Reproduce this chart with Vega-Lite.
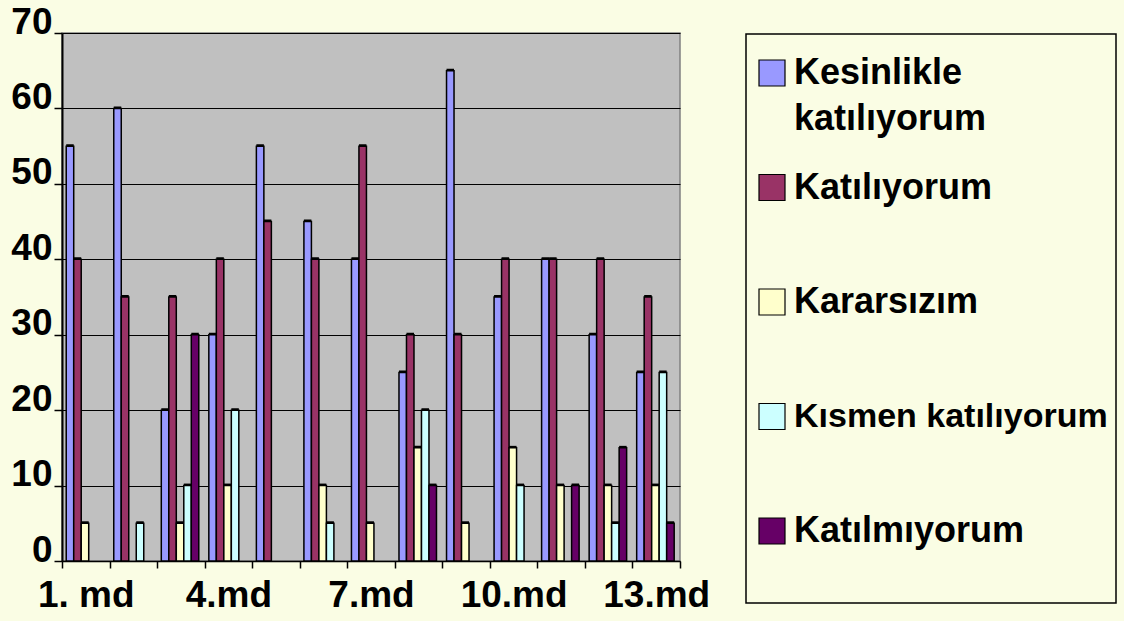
{
  "$schema": "https://vega.github.io/schema/vega-lite/v6.json",
  "autosize": "none",
  "width": 618,
  "height": 528,
  "padding": {"left": 62, "top": 33, "right": 444, "bottom": 60},
  "background": "#FAFDE4",
  "config": {
    "view": {"fill": "#C0C0C0", "stroke": "#808080", "strokeWidth": 1.5},
    "font": "Liberation Sans"
  },
  "data": {
    "values": [
      {"md": "1. md", "yanit": "Kesinlikle katılıyorum", "deger": 55},
      {"md": "1. md", "yanit": "Katılıyorum", "deger": 40},
      {"md": "1. md", "yanit": "Kararsızım", "deger": 5},
      {"md": "2.md", "yanit": "Kesinlikle katılıyorum", "deger": 60},
      {"md": "2.md", "yanit": "Katılıyorum", "deger": 35},
      {"md": "2.md", "yanit": "Kısmen katılıyorum", "deger": 5},
      {"md": "3.md", "yanit": "Kesinlikle katılıyorum", "deger": 20},
      {"md": "3.md", "yanit": "Katılıyorum", "deger": 35},
      {"md": "3.md", "yanit": "Kararsızım", "deger": 5},
      {"md": "3.md", "yanit": "Kısmen katılıyorum", "deger": 10},
      {"md": "3.md", "yanit": "Katılmıyorum", "deger": 30},
      {"md": "4.md", "yanit": "Kesinlikle katılıyorum", "deger": 30},
      {"md": "4.md", "yanit": "Katılıyorum", "deger": 40},
      {"md": "4.md", "yanit": "Kararsızım", "deger": 10},
      {"md": "4.md", "yanit": "Kısmen katılıyorum", "deger": 20},
      {"md": "5.md", "yanit": "Kesinlikle katılıyorum", "deger": 55},
      {"md": "5.md", "yanit": "Katılıyorum", "deger": 45},
      {"md": "6.md", "yanit": "Kesinlikle katılıyorum", "deger": 45},
      {"md": "6.md", "yanit": "Katılıyorum", "deger": 40},
      {"md": "6.md", "yanit": "Kararsızım", "deger": 10},
      {"md": "6.md", "yanit": "Kısmen katılıyorum", "deger": 5},
      {"md": "7.md", "yanit": "Kesinlikle katılıyorum", "deger": 40},
      {"md": "7.md", "yanit": "Katılıyorum", "deger": 55},
      {"md": "7.md", "yanit": "Kararsızım", "deger": 5},
      {"md": "8.md", "yanit": "Kesinlikle katılıyorum", "deger": 25},
      {"md": "8.md", "yanit": "Katılıyorum", "deger": 30},
      {"md": "8.md", "yanit": "Kararsızım", "deger": 15},
      {"md": "8.md", "yanit": "Kısmen katılıyorum", "deger": 20},
      {"md": "8.md", "yanit": "Katılmıyorum", "deger": 10},
      {"md": "9.md", "yanit": "Kesinlikle katılıyorum", "deger": 65},
      {"md": "9.md", "yanit": "Katılıyorum", "deger": 30},
      {"md": "9.md", "yanit": "Kararsızım", "deger": 5},
      {"md": "10.md", "yanit": "Kesinlikle katılıyorum", "deger": 35},
      {"md": "10.md", "yanit": "Katılıyorum", "deger": 40},
      {"md": "10.md", "yanit": "Kararsızım", "deger": 15},
      {"md": "10.md", "yanit": "Kısmen katılıyorum", "deger": 10},
      {"md": "11.md", "yanit": "Kesinlikle katılıyorum", "deger": 40},
      {"md": "11.md", "yanit": "Katılıyorum", "deger": 40},
      {"md": "11.md", "yanit": "Kararsızım", "deger": 10},
      {"md": "11.md", "yanit": "Katılmıyorum", "deger": 10},
      {"md": "12.md", "yanit": "Kesinlikle katılıyorum", "deger": 30},
      {"md": "12.md", "yanit": "Katılıyorum", "deger": 40},
      {"md": "12.md", "yanit": "Kararsızım", "deger": 10},
      {"md": "12.md", "yanit": "Kısmen katılıyorum", "deger": 5},
      {"md": "12.md", "yanit": "Katılmıyorum", "deger": 15},
      {"md": "13.md", "yanit": "Kesinlikle katılıyorum", "deger": 25},
      {"md": "13.md", "yanit": "Katılıyorum", "deger": 35},
      {"md": "13.md", "yanit": "Kararsızım", "deger": 10},
      {"md": "13.md", "yanit": "Kısmen katılıyorum", "deger": 25},
      {"md": "13.md", "yanit": "Katılmıyorum", "deger": 5}
    ]
  },
  "encoding": {
    "x": {
      "field": "md",
      "type": "nominal",
      "sort": null,
      "scale": {"paddingInner": 0, "paddingOuter": 0},
      "axis": {
        "title": null,
        "tickBand": "extent",
        "labelExpr": "indexof(['1. md', '4.md', '7.md', '10.md', '13.md'], datum.value) >= 0 ? datum.label : ''",
        "labelAngle": 0,
        "labelFont": "Liberation Sans",
        "labelFontWeight": "bold",
        "labelFontSize": 37,
        "labelColor": "black",
        "labelOverlap": false,
        "labelBound": false,
        "labelFlush": false,
        "labelPadding": 9,
        "tickColor": "black",
        "tickSize": 7,
        "tickWidth": 1.5,
        "domainColor": "black",
        "domainWidth": 1.5,
        "grid": false
      }
    },
    "xOffset": {
      "field": "yanit",
      "type": "nominal",
      "scale": {
        "domain": ["Kesinlikle katılıyorum", "Katılıyorum", "Kararsızım", "Kısmen katılıyorum", "Katılmıyorum"],
        "paddingInner": 0,
        "paddingOuter": 0.67,
        "align": 0.42
      }
    },
    "y": {
      "field": "deger",
      "type": "quantitative",
      "scale": {"domain": [0, 70], "nice": false},
      "axis": {
        "title": null,
        "values": [0, 10, 20, 30, 40, 50, 60, 70],
        "grid": true,
        "gridColor": "black",
        "gridWidth": 1.2,
        "labelFont": "Liberation Sans",
        "labelFontWeight": "bold",
        "labelFontSize": 37,
        "labelColor": "black",
        "labelBaseline": "alphabetic",
        "labelPadding": 2,
        "tickSize": 8,
        "tickColor": "black",
        "tickWidth": 1.5,
        "domainColor": "black",
        "domainWidth": 2
      }
    }
  },
  "layer": [
    {
      "mark": {"type": "bar", "color": "black", "xOffset": 3, "yOffset": -2}
    },
    {
      "mark": {"type": "bar", "stroke": "black", "strokeWidth": 1.5},
      "encoding": {
        "color": {
          "field": "yanit",
          "type": "nominal",
          "scale": {
            "domain": ["Kesinlikle katılıyorum", "Katılıyorum", "Kararsızım", "Kısmen katılıyorum", "Katılmıyorum"],
            "range": ["#9999FF", "#993366", "#FFFFCC", "#CCFFFF", "#660066"]
          },
          "legend": {
            "orient": "none",
            "legendX": 684,
            "legendY": 1,
            "title": " ",
            "titleFontSize": 4,
            "titlePadding": 9,
            "symbolType": "square",
            "symbolSize": 676,
            "symbolStrokeColor": "black",
            "symbolStrokeWidth": 1.2,
            "symbolOpacity": 1,
            "labelFont": "Liberation Sans",
            "labelFontWeight": "bold",
            "labelFontSize": 36,
            "labelColor": "black",
            "labelLimit": 500,
            "labelOffset": 4,
            "padding": 8,
            "strokeColor": "black",
            "fillColor": "#FAFDE4",
            "gridAlign": "all",
            "rowPadding": 32.5,
            "labelExpr": "datum.label == 'Kesinlikle katılıyorum' ? ['Kesinlikle', 'katılıyorum'] : datum.label == 'Katılmıyorum' ? ['Katılmıyorum', ' '] : datum.label",
            "encode": {
              "legend": {"update": {"strokeWidth": {"value": 1.5}}},
              "labels": {
                "update": {
                  "fontSize": {"signal": "datum.label == 'Kısmen katılıyorum' ? 34 : 36"},
                  "lineHeight": {"value": 46}
                }
              }
            }
          }
        }
      }
    }
  ]
}
